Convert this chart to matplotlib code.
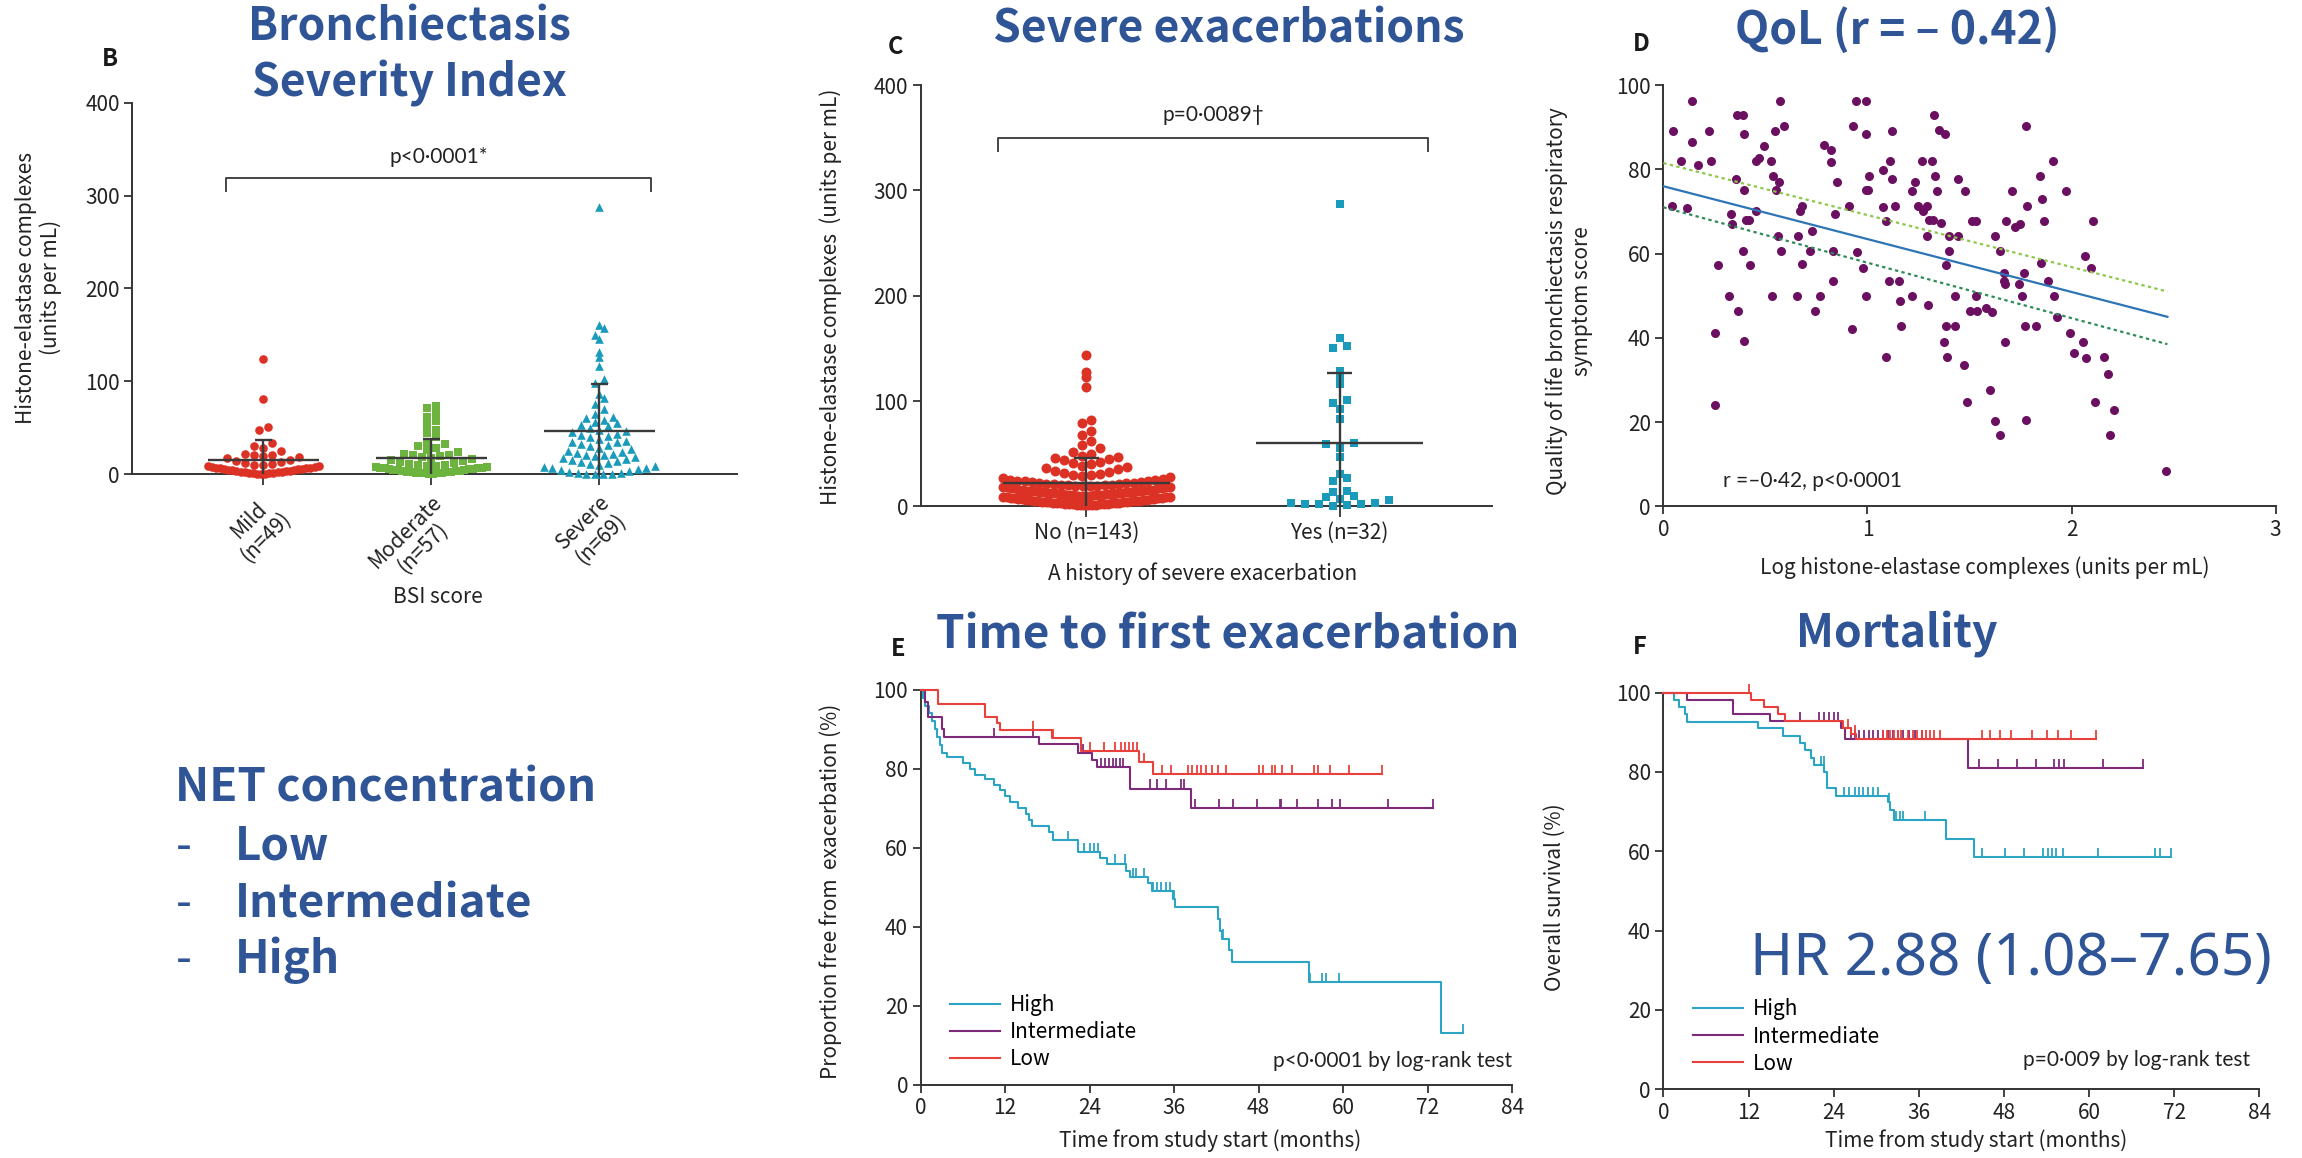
import numpy as np
import matplotlib.pyplot as plt

plt.rcParams['font.family'] = ['Noto Sans CJK KR', 'DejaVu Sans']
plt.rcParams['font.size'] = 15
plt.rcParams['axes.linewidth'] = 1.4
plt.rcParams['axes.edgecolor'] = '#333333'

BLUE = '#2F5597'
RED = '#DC3226'
GREEN = '#6DB33F'
TEAL = '#1B9BBB'
PURPLE = '#6B1060'
KM_HIGH = '#2BA5C3'
KM_INT = '#7D2A7A'
KM_LOW = '#E8413C'
# Latin font with a proportional middle dot for the statistics labels
DOT_FONT = ['Lato', 'DejaVu Sans']

# --- B: NET complexes by BSI severity group ---
bsi_groups = ['Mild\n(n=49)', 'Moderate\n(n=57)', 'Severe\n(n=69)']
bsi_mild = [124, 81, 51, 47, 33, 30, 28, 25, 22, 21, 20, 19, 18, 17, 15, 14, 13, 12, 11, 10,
            10, 9, 9, 8, 8, 7, 7, 6, 6, 5, 5, 5, 4, 4, 4, 3, 3, 3, 2, 2,
            2, 2, 1, 1, 1, 1, 0.5, 0.5, 0.5]
bsi_moderate = [73, 71, 65, 62, 57, 53, 48, 44, 40, 35, 32, 30, 28, 26, 24, 22, 21, 20, 19, 18,
                17, 16, 15, 14, 13, 12, 11, 10, 10, 9, 9, 8, 8, 7, 7, 6, 6, 5, 5, 5,
                4, 4, 4, 3, 3, 3, 2, 2, 2, 2, 1, 1, 1, 1, 1, 0.5, 0.5]
bsi_severe = [288, 161, 157, 150, 146, 131, 126, 116, 102, 98, 86, 82, 75, 70, 65, 62, 60,
              58, 56, 55, 53, 52, 50, 48, 46, 45, 43, 42, 41, 40, 38, 36, 35, 34, 32, 31, 30,
              28, 27, 25, 24, 23, 22, 21, 20, 19, 18, 17, 16, 15, 14, 13, 12, 11, 10,
              9, 8, 7, 6, 5, 4, 3, 2, 1, 1, 0.5, 0.5, 0.5, 0.5]

# --- C: NET complexes by history of severe exacerbation ---
exac_groups = ['No (n=143)', 'Yes (n=32)']
exac_no = [144, 128, 123, 113, 82, 79, 72, 68, 62, 58,
           55, 52, 50, 48, 47, 46, 45, 44, 42, 41, 40,
           38, 37, 36, 35, 34, 33, 32, 31, 30, 30,
           29, 28, 27, 26, 25, 24, 24, 23, 22, 22, 21, 21, 20, 20,
           19, 19, 18, 18, 17, 17, 16, 16, 15, 15, 14, 14, 13, 13, 12, 12, 11, 11, 10, 10,
           25, 24, 23, 22, 21, 20, 19, 18, 17, 16, 15, 14, 13, 12, 11, 10,
           9, 9, 9, 9, 8, 8, 8, 8, 7, 7, 7, 7, 6, 6, 6, 6, 5, 5, 5, 5, 5,
           4, 4, 4, 4, 4, 3, 3, 3, 3, 3, 3, 2, 2, 2, 2, 2, 2, 1, 1, 1, 1, 1, 1,
           20, 19, 18, 17, 16, 16, 15, 15, 14, 14, 13, 13, 12, 12, 11, 11, 10, 11]
exac_yes = [287, 160, 152, 150, 129, 124, 116, 101, 98, 92, 83, 60, 59, 56, 55, 47, 31, 27,
            24, 15, 14, 10, 9, 7, 6, 3, 3, 2, 2, 2, 1, 0.5]

# --- D: quality of life vs log NET complexes ---
qol_x = [0.048, 0.043, 0.084, 0.116, 0.14, 0.14, 0.169, 0.224, 0.231, 0.255, 0.255, 0.267,
         0.320, 0.337, 0.333, 0.354, 0.361, 0.39, 0.366, 0.393, 0.393, 0.388, 0.395, 0.405,
         0.419, 0.424, 0.453, 0.467, 0.455, 0.492, 0.525, 0.53, 0.535, 0.547, 0.552, 0.566,
         0.564, 0.571, 0.578, 0.593, 0.653, 0.658, 0.67, 0.677, 0.68, 0.718, 0.730, 0.742,
         0.769, 0.786, 0.819, 0.819, 0.829, 0.831, 0.843, 0.853, 0.908, 0.925, 0.930, 0.945,
         0.947, 0.978, 0.995, 0.995, 0.995, 0.995, 1.005, 1.007, 1.075, 1.077, 1.089, 1.092,
         1.108, 1.111, 1.118, 1.12, 1.137, 1.157, 1.161, 1.166, 1.219, 1.219, 1.231, 1.246,
         1.265, 1.27, 1.292, 1.294, 1.296, 1.301, 1.318, 1.320, 1.328, 1.333, 1.340, 1.349,
         1.361, 1.378, 1.376, 1.386, 1.386, 1.390, 1.4, 1.402, 1.427, 1.429, 1.443, 1.446,
         1.475, 1.480, 1.489, 1.504, 1.511, 1.533, 1.533, 1.537, 1.583, 1.602, 1.61, 1.627,
         1.627, 1.651, 1.651, 1.667, 1.667, 1.675, 1.675, 1.68, 1.723, 1.708, 1.742, 1.749,
         1.759, 1.766, 1.774, 1.778, 1.781, 1.778, 1.824, 1.846, 1.851, 1.855, 1.865, 1.887,
         1.908, 1.913, 1.928, 1.971, 1.995, 2.01, 2.058, 2.067, 2.07, 2.096, 2.104, 2.116,
         2.161, 2.181, 2.19, 2.21, 2.465]
qol_y = [89.1, 71.3, 82.1, 70.9, 96.3, 86.4, 81.1, 89.1, 82.1, 41.1, 24.0, 57.2,
         49.9, 67.1, 69.4, 77.7, 92.8, 92.8, 46.3, 88.5, 75.0, 60.7, 39.2, 68.0,
         68.0, 57.2, 82.1, 82.6, 70.0, 85.5, 81.9, 49.9, 78.4, 89.1, 75.0, 77.0,
         64.3, 96.3, 60.7, 90.3, 49.9, 64.3, 70.0, 71.3, 57.5, 60.7, 65.4, 46.3,
         49.9, 85.7, 84.6, 81.7, 60.7, 53.5, 69.3, 76.9, 71.3, 42.0, 90.3, 96.3,
         60.3, 56.6, 96.3, 88.4, 49.9, 75.0, 75.0, 78.5, 79.9, 71.0, 67.8, 35.5,
         53.5, 82.1, 77.8, 89.1, 71.3, 53.5, 48.8, 42.7, 49.9, 74.9, 77.0, 71.3,
         82.1, 70.0, 71.3, 64.3, 47.9, 68.0, 82.1, 68.0, 92.8, 78.5, 74.9, 89.4,
         67.3, 88.5, 39.1, 57.2, 42.7, 35.5, 60.7, 64.3, 49.9, 42.7, 77.8, 64.3,
         33.5, 74.9, 24.7, 46.3, 67.8, 67.8, 49.9, 46.3, 47.0, 27.6, 46.1, 20.2,
         64.3, 17.0, 60.7, 55.5, 53.5, 52.8, 39.1, 67.8, 66.2, 74.9, 52.8, 67.1,
         49.9, 55.4, 42.7, 90.3, 71.3, 20.6, 42.7, 78.5, 57.7, 72.9, 67.8, 53.5,
         82.1, 49.9, 44.9, 74.9, 41.1, 36.3, 39.1, 59.4, 35.3, 56.6, 67.8, 24.7,
         35.5, 31.5, 17.0, 22.9, 8.4]
fit_x = [0, 2.47]
fit_y = [76, 45]
ci_upper = [81.5, 51]
ci_lower = [71, 38.5]

# --- E: time to first exacerbation (step times / survival after each step) ---
e_high_t = [0, 0.3, 0.7, 1.2, 1.6, 2.0, 2.4, 2.7, 3.0, 3.8, 6.0, 7.0, 7.8, 9.2, 10.5, 11.3,
            12.0, 12.7, 13.8, 15.0, 15.4, 15.9, 18.3, 18.8, 22.3, 25.5, 26.5, 29.2, 29.7,
            32.3, 32.8, 35.9, 36.1, 42.3, 42.5, 42.8, 43.8, 44.2, 55.2, 73.9]
e_high_s = [100, 98, 96, 94, 92, 90, 88, 86, 84, 83, 81.5, 80, 78.5, 77.5, 76, 74.5,
            73, 71.5, 70, 68.5, 67, 65.5, 64, 62, 59, 57.5, 56, 54, 52.5,
            51, 49, 47, 45, 42, 39, 37, 34, 31, 26, 13]
e_high_end = 77.0
e_high_cens = [21.0, 23.2, 24.0, 24.6, 25.2, 27.6, 29.0, 30.1, 30.6, 31.7, 33.0, 33.6, 34.2,
               34.8, 35.4, 36.0, 42.3, 43.0, 55.3, 57.0, 57.6, 59.4, 73.9, 77.0]
e_int_t = [0, 0.6, 1.0, 3.0, 3.4, 16.8, 22.3, 24.3, 25.0, 29.8, 38.4]
e_int_s = [100, 97, 93, 90, 88, 86.3, 84, 82.2, 80.5, 75, 70]
e_int_end = 72.7
e_int_cens = [10.5, 16.0, 23.0, 25.6, 26.2, 26.8, 27.3, 27.8, 28.3, 28.8, 32.6, 33.6, 34.8,
              37.0, 37.4, 39.0, 42.4, 44.4, 47.8, 51.0, 51.2, 53.5, 56.4, 58.4, 59.6, 66.4, 72.7]
e_low_t = [0, 2.5, 9.1, 10.9, 11.3, 18.7, 22.8, 31.0, 33.0]
e_low_s = [100, 96.5, 93.2, 91.6, 89.8, 87.9, 84.5, 81.6, 78.6]
e_low_end = 65.5
e_low_cens = [16.0, 18.8, 24.0, 26.0, 27.6, 28.4, 29.0, 29.6, 30.2, 30.8, 31.7, 34.3, 35.6,
              38.0, 38.6, 39.2, 39.8, 40.6, 41.4, 42.2, 43.4, 48.0, 48.6, 49.9, 50.3, 51.3,
              52.8, 55.9, 56.5, 58.2, 60.9, 65.5]

# --- F: overall survival ---
f_high_t = [0, 1.5, 2.2, 3.0, 3.4, 13.3, 16.9, 19.2, 20.0, 20.8, 21.2, 22.7, 23.0, 24.3,
            31.6, 32.0, 32.5, 39.9, 43.8]
f_high_s = [100, 98.2, 96.4, 94.6, 92.7, 91.0, 89.2, 87.3, 85.5, 83.6, 81.8, 80.0, 76.0, 74.0,
            72.5, 70.5, 67.8, 63.2, 58.6]
f_high_end = 71.6
f_high_cens = [22.2, 22.6, 25.4, 26.2, 27.0, 27.6, 28.2, 28.8, 29.6, 30.2, 31.8, 32.8, 33.3,
               33.8, 36.9, 44.9, 48.2, 50.8, 53.5, 54.2, 54.8, 55.4, 56.3, 61.2, 69.3, 70.0, 71.6]
f_int_t = [0, 3.4, 9.8, 15.0, 25.0, 25.6, 43.0]
f_int_s = [100, 98.2, 94.6, 92.8, 91.0, 88.3, 81.0]
f_int_end = 67.6
f_int_cens = [19.2, 22.0, 22.6, 23.4, 24.0, 24.6, 26.5, 27.0, 27.6, 28.3, 29.0, 29.6, 30.3,
              31.0, 31.6, 32.4, 33.0, 33.8, 34.6, 35.5, 36.5, 44.5, 47.2, 49.8, 52.5, 55.0,
              55.8, 56.5, 62.0, 67.6]
f_low_t = [0, 12.3, 14.2, 16.1, 17.2, 25.3, 26.5, 27.2]
f_low_s = [100, 98.2, 96.4, 94.6, 92.8, 91.0, 89.6, 88.3]
f_low_end = 61.0
f_low_cens = [12.0, 26.0, 27.0, 31.0, 31.5, 32.0, 32.5, 33.0, 33.5, 34.5, 35.2, 35.8, 36.4,
              37.0, 37.6, 38.2, 39.0, 44.9, 46.0, 47.5, 49.0, 52.0, 54.0, 55.6, 57.5, 61.0]

km_labels = ['High', 'Intermediate', 'Low']
net_levels = ['Low', 'Intermediate', 'High']

fig = plt.figure(figsize=(23.02, 11.58), dpi=100)
W, H = 1568.0, 789.0


def box(x0, y0, x1, y1):
    return [x0 / W, 1 - y1 / H, (x1 - x0) / W, (y1 - y0) / H]


def ftext(x, y, s, **kw):
    fig.text(x / W, 1 - y / H, s, **kw)


def style(ax):
    for side in ['top', 'right']:
        ax.spines[side].set_visible(False)
    ax.tick_params(direction='out', length=6, width=1.3, labelsize=15,
                   colors='#333333', labelcolor='#222222', pad=3)


def row_offsets(ypx, row_h, step, max_half):
    # points are grouped in horizontal rows; each row is centred and squeezed
    # when it would get wider than the allowed half-width
    rows = np.floor(ypx / row_h).astype(int)
    offs = np.zeros(len(ypx))
    for r in np.unique(rows):
        idx = np.where(rows == r)[0]
        idx = idx[np.argsort(ypx[idx])]
        n = len(idx)
        if n == 1:
            continue
        gap = min(step, 2 * max_half / (n - 1))
        slots = (np.arange(n) - (n - 1) / 2) * gap
        slots = slots[np.argsort(np.abs(slots), kind='stable')]
        offs[idx] = slots
    return offs


def swarm(ax, values, center, ms, marker, color, step_px, half=0.33):
    values = np.asarray(values, dtype=float)
    pos = ax.get_position()
    wpx = pos.width * fig.get_figwidth() * fig.dpi
    hpx = pos.height * fig.get_figheight() * fig.dpi
    x0, x1 = ax.get_xlim()
    y0, y1 = ax.get_ylim()
    ppx = wpx / (x1 - x0)
    ppy = hpx / (y1 - y0)
    row_h = ms * fig.dpi / 72
    offs = row_offsets(values * ppy, row_h, step_px, half * ppx)
    ax.scatter(center + offs / ppx, values, s=ms ** 2, marker=marker, color=color,
               linewidths=0, clip_on=False, zorder=3)


def mean_sd(ax, values, center, half=0.33):
    m = np.mean(values)
    sd = np.std(values, ddof=1)
    kw = dict(color='#3a3a3a', lw=1.7, zorder=4)
    ax.hlines(m, center - half, center + half, **kw)
    ax.vlines(center, max(m - sd, 0), m + sd, **kw)
    ax.hlines(m + sd, center - 0.05, center + 0.05, **kw)


def bracket(ax, a, b, ylo, yhi, label):
    ax.plot([a, a, b, b], [ylo, yhi, yhi, ylo], color='#444444', lw=1.4, clip_on=False)
    ax.text((a + b) / 2, yhi + 12, label, ha='center', va='bottom', fontsize=15,
            color='#222222', family=DOT_FONT)


def km(ax, t, s, t_end, cens, color):
    tt = list(t) + [t_end]
    ss = list(s) + [s[-1]]
    line, = ax.step(tt, ss, where='post', color=color, lw=1.5, clip_on=False, zorder=3)
    idx = np.searchsorted(t, cens, side='right') - 1
    lv = np.asarray(s)[idx]
    ax.vlines(cens, lv, lv + 2.3, color=color, lw=1.3, clip_on=False, zorder=3)
    return line


# panel B
axB = fig.add_axes(box(90, 70, 502, 323))
style(axB)
axB.tick_params(axis='x', length=8, pad=4)
axB.set_xlim(-0.78, 2.82)
axB.set_ylim(0, 400)
axB.set_yticks([0, 100, 200, 300, 400])
axB.set_xticks([0, 1, 2])
axB.set_xticklabels(bsi_groups, rotation=45, ha='right', va='top', fontsize=15,
                    rotation_mode='anchor', multialignment='center', linespacing=1.1)
for i, (vals, mk, col, ms) in enumerate([(bsi_mild, 'o', RED, 6.2),
                                          (bsi_moderate, 's', GREEN, 5.6),
                                          (bsi_severe, '^', TEAL, 6.2)]):
    swarm(axB, vals, i, ms, mk, col, step_px=9)
    mean_sd(axB, vals, i)
bracket(axB, -0.22, 2.31, 305, 319, 'p<0·0001*')
ftext(26, 196, 'Histone-elastase complexes\n(units per mL)', ha='center', va='center',
      rotation=90, fontsize=15, color='#222222', linespacing=1.15)
ftext(298, 407, 'BSI score', ha='center', va='center', fontsize=15, color='#222222')

# panel C
axC = fig.add_axes(box(627, 58, 1016, 345))
style(axC)
axC.tick_params(axis='x', length=8)
axC.set_xlim(-0.655, 1.6)
axC.set_ylim(0, 400)
axC.set_yticks([0, 100, 200, 300, 400])
axC.set_xticks([0, 1])
axC.set_xticklabels(exac_groups)
swarm(axC, exac_no, 0, 7.2, 'o', RED, step_px=9)
swarm(axC, exac_yes, 1, 5.3, 's', TEAL, step_px=14, half=0.3)
mean_sd(axC, exac_no, 0)
mean_sd(axC, exac_yes, 1)
bracket(axC, -0.35, 1.35, 337, 350, 'p=0·0089†')
ftext(819, 391, 'A history of severe exacerbation', ha='center', va='center',
      fontsize=15, color='#222222')
ftext(566, 202, 'Histone-elastase complexes  (units per mL)', ha='center', va='center',
      rotation=90, fontsize=15, color='#222222')

# panel D
axD = fig.add_axes(box(1133, 58, 1550, 345))
style(axD)
axD.set_xlim(0, 3)
axD.set_ylim(0, 100)
axD.set_xticks([0, 1, 2, 3])
axD.set_yticks([0, 20, 40, 60, 80, 100])
axD.scatter(qol_x, qol_y, s=6.5 ** 2, color=PURPLE, linewidths=0, zorder=3, clip_on=False)
axD.plot(fit_x, fit_y, color='#2E75B6', lw=1.6, zorder=4)
axD.plot(fit_x, ci_upper, color='#8DC84A', lw=1.6, ls=(0, (1.5, 1.5)), zorder=4)
axD.plot(fit_x, ci_lower, color='#2E8B57', lw=1.6, ls=(0, (1.5, 1.5)), zorder=4)
axD.text(0.29, 6.1, 'r =–0·42, p<0·0001', ha='left', va='center', fontsize=15,
         color='#222222', family=DOT_FONT)
ftext(1069, 205, 'Quality of life bronchiectasis respiratory\nsymptom score', ha='center',
      va='center', rotation=90, fontsize=15, color='#222222')
ftext(1352, 387, 'Log histone-elastase complexes (units per mL)', ha='center', va='center',
      fontsize=15, color='#222222')

# panels E and F
axE = fig.add_axes(box(627, 470, 1030, 739))
axF = fig.add_axes(box(1133, 472, 1539, 742))
curves = {
    axE: [(e_high_t, e_high_s, e_high_end, e_high_cens, KM_HIGH),
          (e_int_t, e_int_s, e_int_end, e_int_cens, KM_INT),
          (e_low_t, e_low_s, e_low_end, e_low_cens, KM_LOW)],
    axF: [(f_high_t, f_high_s, f_high_end, f_high_cens, KM_HIGH),
          (f_int_t, f_int_s, f_int_end, f_int_cens, KM_INT),
          (f_low_t, f_low_s, f_low_end, f_low_cens, KM_LOW)],
}
for ax in (axE, axF):
    style(ax)
    ax.set_xlim(0, 84)
    ax.set_ylim(0, 100)
    ax.set_xticks(range(0, 85, 12))
    ax.set_yticks(range(0, 101, 20))
    handles = [km(ax, *c) for c in curves[ax]]
    ax.legend(handles, km_labels, loc='lower left', bbox_to_anchor=(0.035, 0.015),
              frameon=False, fontsize=15, handlelength=2.4, handletextpad=0.5,
              labelspacing=0.25, borderaxespad=0)

axE.text(84, 6.1, 'p<0·0001 by log-rank test', ha='right', va='center', fontsize=15,
         color='#222222', family=DOT_FONT)
axF.text(82.7, 7.2, 'p=0·009 by log-rank test', ha='right', va='center', fontsize=15,
         color='#222222', family=DOT_FONT)
axF.text(49.0, 32.6, 'HR 2.88 (1.08–7.65)', ha='center', va='center', fontsize=42,
         color=BLUE, family=['Noto Sans', 'DejaVu Sans'])
ftext(824, 777, 'Time from study start (months)', ha='center', va='center', fontsize=15,
      color='#222222')
ftext(1346, 777, 'Time from study start (months)', ha='center', va='center', fontsize=15,
      color='#222222')
ftext(566, 607, 'Proportion free from  exacerbation (%)', ha='center', va='center',
      rotation=90, fontsize=15, color='#222222')
ftext(1059, 611, 'Overall survival (%)', ha='center', va='center', rotation=90, fontsize=15,
      color='#222222')

# panel letters and headings
for x, y, s in [(75, 40, 'B'), (610, 32, 'C'), (1118, 30, 'D'), (612, 442, 'E'), (1117, 441, 'F')]:
    ftext(x, y, s, ha='center', va='center', fontsize=17, fontweight='bold', color='#1a1a1a')

title_kw = dict(ha='center', va='center', fontsize=32, fontweight='bold', color=BLUE)
ftext(279, 19, 'Bronchiectasis', **title_kw)
ftext(279, 57, 'Severity Index', **title_kw)
ftext(837, 20, 'Severe exacerbations', **title_kw)
ftext(1292, 21, 'QoL (r = – 0.42)', **title_kw)
ftext(836, 433, 'Time to first exacerbation', **dict(title_kw, fontsize=33))
ftext(1292, 432, 'Mortality', **title_kw)

# NET concentration groups
ftext(119, 537, 'NET concentration', ha='left', va='center', fontsize=33,
      fontweight='bold', color=BLUE)
for y, s in zip([577, 616, 654], net_levels):
    ftext(120, y, '-', ha='left', va='center', fontsize=33, color=BLUE)
    ftext(160, y, s, ha='left', va='center', fontsize=33, fontweight='bold', color=BLUE)

fig.savefig('out.png', dpi=100)
